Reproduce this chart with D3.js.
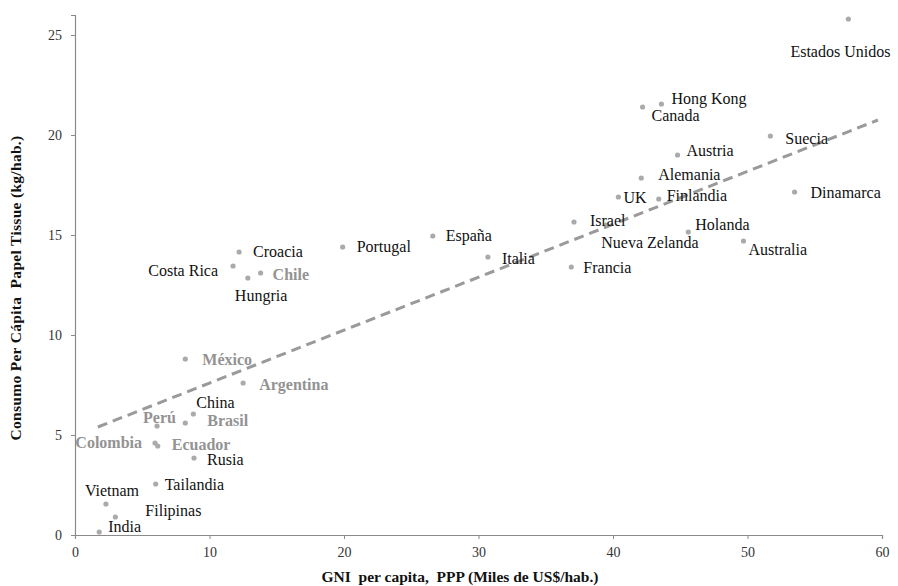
<!DOCTYPE html>
<html><head><meta charset="utf-8">
<script src="https://cdn.jsdelivr.net/npm/d3@7"></script>
<style>
body{margin:0;background:#fff;}
svg{display:block;font-family:"Liberation Serif","Times New Roman",serif;}
</style></head>
<body><svg id="chart" width="898" height="586"></svg>
<script>
// ---- data ----
const countries = ["Estados Unidos","Hong Kong","Canada","Suecia","Austria","Alemania","UK","Finlandia","Dinamarca","Israel","Nueva Zelanda","Holanda","Australia","Francia","Italia","España","Portugal","Croacia","Costa Rica","Hungria","Chile","México","Argentina","China","Brasil","Perú","Colombia","Ecuador","Rusia","Tailandia","Vietnam","Filipinas","India"];
const gniPerCapita = [57.5,43.6,42.2,51.7,44.8,42.1,40.4,43.4,53.5,37.1,39.5,45.6,49.7,36.9,30.7,26.6,19.9,12.2,11.75,12.85,13.8,8.2,12.5,8.8,8.2,6.1,5.95,6.15,8.85,6.0,2.3,3.0,1.8];
const tissueConsumption = [25.8,21.55,21.4,19.95,19.0,17.85,16.9,16.8,17.15,15.65,15.5,15.15,14.7,13.4,13.9,14.95,14.4,14.15,13.45,12.85,13.1,8.8,7.6,6.05,5.6,5.45,4.6,4.45,3.85,2.55,1.55,0.9,0.15];
const greyLabelled = ["Chile","México","Argentina","Brasil","Perú","Colombia","Ecuador"];
const trendX = [1.7, 59.7];
const trendY = [5.4, 20.75];
const xTicks = [0,10,20,30,40,50,60];
const yTicks = [0,5,10,15,20,25];
const xTitle = "GNI  per capita,  PPP (Miles de US$/hab.)";
const yTitle = "Consumo Per Cápita  Papel Tissue (kg/hab.)";

// label layout (pixel offsets from each dot: dx, dy, anchor)
const labelLayout = {
 "Estados Unidos":[-58,38,"start"],"Hong Kong":[10,0,"start"],"Canada":[9,14,"start"],
 "Suecia":[15,8,"start"],"Austria":[9,1,"start"],"Alemania":[17,2,"start"],"UK":[5,6,"start"],
 "Finlandia":[8,2,"start"],"Dinamarca":[16,6,"start"],"Israel":[16,4,"start"],
 "Nueva Zelanda":[-5,23,"start"],"Holanda":[7,-2,"start"],"Australia":[5,14,"start"],
 "Francia":[12,6,"start"],"Italia":[14,7,"start"],"España":[13,5,"start"],"Portugal":[14,5,"start"],
 "Croacia":[14,5,"start"],"Costa Rica":[-15,10,"end"],"Hungria":[-13,23,"start"],"Chile":[12,7,"start"],
 "México":[17,6,"start"],"Argentina":[16,7,"start"],"China":[3,-6,"start"],"Brasil":[22,3,"start"],
 "Perú":[-14,-3,"start"],"Colombia":[-13,5,"end"],"Ecuador":[14,4,"start"],"Rusia":[13,7,"start"],
 "Tailandia":[9,6,"start"],"Vietnam":[-21,-8,"start"],"Filipinas":[30,-1,"start"],"India":[9,0,"start"]
};

// ---- chart ----
const svg = d3.select("#chart");
const x = d3.scaleLinear().domain([0,60]).range([75,882]);
const y = d3.scaleLinear().domain([0,26]).range([535,15]);
const axisColor = "#8a8a8a";

const xAxis = svg.append("g").attr("transform","translate(0,535)")
  .call(d3.axisBottom(x).tickValues(xTicks).tickSize(4).tickPadding(8).tickFormat(d3.format("d")));
const yAxis = svg.append("g").attr("transform","translate(75,0)")
  .call(d3.axisLeft(y).tickValues(yTicks).tickSize(4).tickPadding(9).tickFormat(d3.format("d")));
[xAxis,yAxis].forEach(g=>{
  g.attr("font-family",null);
  g.select(".domain").attr("stroke",axisColor).attr("stroke-width",1.2);
  g.selectAll(".tick line").attr("stroke",axisColor);
  g.selectAll(".tick text").attr("fill","#333").style("font-size","14px")
   .style("font-family","'Liberation Serif',serif");
});

const data = countries.map((c,i)=>({name:c,gx:gniPerCapita[i],ty:tissueConsumption[i]}));

svg.append("g").selectAll("circle").data(data).join("circle")
  .attr("cx",d=>x(d.gx)).attr("cy",d=>y(d.ty)).attr("r",2.6)
  .attr("fill","#aaaaaa");

// trend line
svg.append("line")
  .attr("x1",x(trendX[0])).attr("y1",y(trendY[0]))
  .attr("x2",x(trendX[1])).attr("y2",y(trendY[1]))
  .attr("stroke","#9a9a9a").attr("stroke-width",3)
  .attr("stroke-dasharray","10,6");

svg.append("g").selectAll("text").data(data).join("text")
  .attr("x",d=>x(d.gx)+labelLayout[d.name][0])
  .attr("y",d=>y(d.ty)+labelLayout[d.name][1])
  .attr("text-anchor",d=>labelLayout[d.name][2])
  .attr("fill",d=>greyLabelled.includes(d.name)?"#939393":"#111")
  .style("font-size","16px")
  .style("font-weight",d=>greyLabelled.includes(d.name)?"bold":"normal")
  .text(d=>d.name);

svg.append("text").attr("x",460).attr("y",582).attr("text-anchor","middle")
  .style("font-size","15.5px").style("font-weight","bold").attr("fill","#111")
  .style("white-space","pre")
  .text(xTitle);
svg.append("text").attr("transform","translate(21,288) rotate(-90)").attr("text-anchor","middle")
  .style("font-size","15.5px").style("font-weight","bold").attr("fill","#111")
  .style("white-space","pre").style("letter-spacing","0.3px")
  .text(yTitle);
</script></body></html>
